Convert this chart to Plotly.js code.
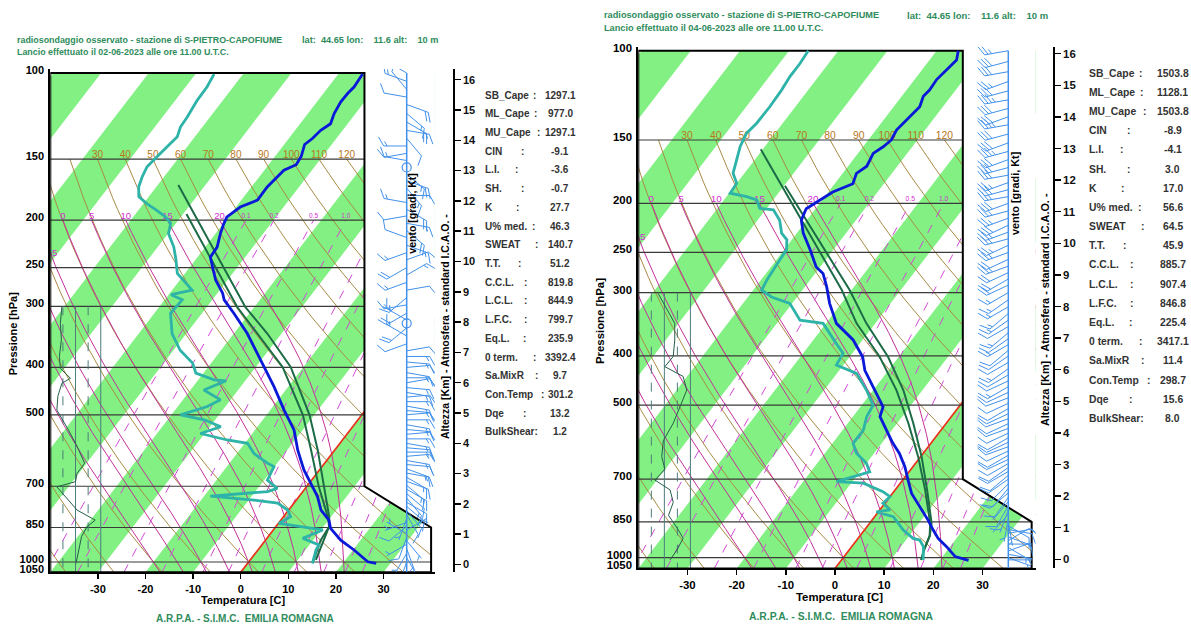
<!DOCTYPE html>
<html>
<head>
<meta charset="utf-8">
<script src="https://cdn.plot.ly/plotly-3.0.1.min.js"></script>
<style>
html,body{margin:0;padding:0;background:#ffffff;}
#chart{width:1191px;height:625px;}
</style>
</head>
<body>
<div id="chart"></div>
<script>
// ======================= DATA =======================
const stationName = "S-PIETRO-CAPOFIUME";
const launchDates = ["02-06-2023", "04-06-2023"];
const pressureTicks = [100,150,200,250,300,400,500,700,850,1000,1050];
const temperatureTicks = [-30,-20,-10,0,10,20,30];
const altitudeTicks = [0,1,2,3,4,5,6,7,8,9,10,11,12,13,14,15,16];
const isobarLevels = [150,200,250,300,400,500,700,850,1000];
const stripeStarts = [-120,-100,-80,-60,-40,-20,0,20];
const thetaValues = [-40,-30,-20,-10,0,10,20,30,40,50,60,70,80,90,100,110,120];
const thetaLabelValues = [30,40,50,60,70,80,90,100,110,120];
const thetaWValues = [-20,-15,-10,-5,0,5,10,15,20];
const thetaWLabelValues = [0,5,10,15,20];
const mixingRatioValues = [0.1,0.2,0.5,1,2,3,5,8,12,16,20];
const mixingRatioLabelValues = [0.1,0.2,0.5,1.0];
const rhGridValues = [25,50,75,100];

const statLabels = ["SB_Cape","ML_Cape","MU_Cape","CIN","L.I.","SH.","K","U% med.","SWEAT","T.T.","C.C.L.","L.C.L.","L.F.C.","Eq.L.","0 term.","Sa.MixR","Con.Temp","Dqe","BulkShear:"];
const statsDay1 = ["1297.1","977.0","1297.1","-9.1","-3.6","-0.7","27.7","46.3","140.7","51.2","819.8","844.9","799.7","235.9","3392.4","9.7","301.2","13.2","1.2"];
const statsDay2 = ["1503.8","1128.1","1503.8","-8.9","-4.1","3.0","17.0","56.6","64.5","45.9","885.7","907.4","846.8","225.4","3417.1","11.4","298.7","15.6","8.0"];

// ---- Day 1 (02-06-2023) ----
const d1TempP = [1006,999,945,902,854,821,783,735,690,649,619,590,537,489,438,399,341,310,291,282,265,249,238,227,213,203,197,188,182,171,158,154,148,140,136,131,127,121,114.5,110,106.7,100.5];
const d1TempT = [27.0,25.0,20.2,15.8,11.8,10.1,6.8,3.9,0.3,-3.2,-5.5,-7.8,-11.8,-17.1,-23.0,-28.3,-37.2,-43.3,-47.5,-48.9,-52.5,-55.3,-57.3,-57.5,-59.0,-59.9,-60.3,-59.1,-56.6,-56.7,-55.9,-54.2,-54.5,-55.7,-55.0,-54.6,-53.6,-54.5,-55.0,-54.9,-54.6,-54.9];
const d1DewP = [1006,945,923,894,860,834,808,783,758,747,733,718,707,680,638,628,600,572,563,546,529,512,500,481,466,445,426,424,411,392,369,341,310,291,284,278,257,241,227,213,203,197,191,185,179,171,163,155.5,148,141.5,135,129,123,113.5,106.7,100.5];
const d1DewT = [13.6,12.2,12.0,7.5,10.4,0.1,1.5,-0.2,-3.4,-8.9,-18.7,-7.4,-5.9,-9.3,-10.1,-12.0,-16.4,-19.4,-24.2,-30.9,-27.7,-32.3,-38.1,-33.8,-32.1,-37.2,-34.0,-36.7,-41.6,-43.9,-48.6,-53.0,-56.6,-56.3,-59.5,-55.8,-61.6,-64.1,-66.6,-69.9,-71.1,-73.2,-76.1,-79.3,-82.1,-83.7,-84.6,-85.2,-84.7,-84.2,-83.7,-84.6,-84.8,-85.4,-85.5,-86.1];
const d1ParcelAP = [1006,902,847,808,702,590,500,399,341,301,169.4];
const d1ParcelAT = [13.6,11.6,11.2,9.6,3.7,-3.6,-11.0,-22.7,-33.0,-41.9,-75.7];
const d1ParcelBP = [990.6,910,847,808,702,590,500,399,341,301,194.2];
const d1ParcelBT = [13.8,12.4,11.2,9.3,2.6,-5.0,-12.4,-24.4,-35.1,-43.6,-69.3];
const d1RhP = [1006,945,887,847,821,783,746,713,702,685,659,628,580,537,505,489,458,431,421,402,380,351,325,300];
const d1RhV = [51,56,62,73,89,53,36,20,13,50,53,68,53,36,20,13,15,23,40,20,18,22,20,23];
const d1WindP = [100,104,108,112,116,121,126,131,136,141,146,151,156,161,166,172,178,184,190,196,203,210,217,225,233,241,250,259,268,278,288,298,310,320,325,332,345,358,370,380,390,400,410,420,430,440,450,460,470,480,490,500,512,524,536,548,560,572,584,596,608,620,632,645,658,671,684,697,710,725,740,755,770,785,800,815,830,845,860,875,890,905,920,940,960,980,1000];
const d1WindDir = [300,290,320,280,110,130,120,100,140,270,260,280,0,130,110,140,90,280,120,260,100,130,290,110,250,70,240,60,250,80,230,260,240,300,0,230,300,250,80,90,95,85,100,90,80,95,100,85,90,100,95,85,90,100,95,85,90,100,95,90,85,100,95,110,100,120,110,130,120,130,140,120,130,140,150,200,250,230,60,300,200,140,240,160,210,150,200];
const d1WindSpd = [10,15,10,10,20,15,20,15,10,15,10,15,0,15,20,15,10,15,20,10,15,20,10,15,15,10,20,15,15,10,20,15,20,15,0,20,15,10,10,15,15,10,15,15,10,15,15,10,15,15,10,15,15,15,15,10,15,15,10,15,15,15,10,15,15,15,10,15,15,10,15,10,15,10,10,5,5,10,5,5,10,5,5,5,5,5,5];

// ---- Day 2 (04-06-2023) ----
const d2TempP = [1012,995,951,916,882,843,793,747,703,662,623,595,560,527,504,460,427,402,372,345,315,292,275,267,247,229,216,205,195.5,190,183,174.5,169,159.4,154.7,150,143.4,139,135,129,123,119.6,114,111,107.5,104.3,100];
const d2TempT = [25.9,22.6,19.3,16.3,14.0,11.4,7.6,3.9,1.1,-1.6,-4.8,-7.7,-11.1,-14.5,-15.4,-20.6,-24.8,-27.3,-31.9,-37.9,-42.4,-45.6,-48.4,-50.8,-54.7,-58.7,-61.1,-61.9,-60.1,-59.1,-56.3,-57.2,-56.2,-56.9,-55.9,-55.3,-55.8,-55.5,-55.2,-54.7,-55.6,-55.3,-55.5,-55.2,-54.8,-54.5,-55.6];
const d2DewP = [1010,951,923,916,882,830,812,805,781,758,741,713,708,677,651,622,595,560,527,500,467,433,417,395,378,361,345,340,330,315,306,296.5,283,271,259,247,236,229,216,206,204.6,197,194,191,182.6,174.5,164.3,154.7,145.6,139,129,119.6,112.5,106,100];
const d2DewT = [16.6,14.6,12.8,11.2,7.9,3.8,-0.4,2.1,-0.4,0.0,-2.2,-7.5,-13.2,-8.0,-10.0,-13.6,-15.8,-15.8,-17.2,-17.7,-21.4,-26.0,-31.4,-31.9,-34.8,-37.7,-40.6,-45.8,-47.6,-50.5,-55.2,-58.3,-58.8,-59.1,-59.3,-59.5,-61.0,-63.1,-65.5,-68.4,-71.4,-73.3,-75.9,-79.8,-80.0,-82.3,-83.6,-85.0,-85.8,-85.3,-85.2,-85.4,-85.8,-85.8,-86.1];
const d2ParcelAP = [1010,957,906,855,735,632,543,467,401.5,345,296.5,156.5];
const d2ParcelAT = [16.2,15.1,14.2,12.3,6.1,-0.5,-7.7,-15.3,-23.9,-33.8,-42.0,-80.4];
const d2ParcelBP = [1010,966,906,855,735,632,543,467,401.5,345,296.5,184.7];
const d2ParcelBT = [16.2,15.2,14.2,12.6,6.5,0.2,-6.7,-13.9,-22.2,-31.8,-40.4,-69.8];
const d2RhP = [1010,966,916,882,825,778,735,703,669,632,588,543,504,467,439,420,401,372,345,319,301];
const d2RhV = [61,74,86,77,58,67,61,32,51,45,48,67,80,93,86,51,67,70,70,51,38];
const d2WindP = [100,105,110,115,120,125,130,135,140,146,152,158,164,170,176,182,188,194,200,207,214,221,228,235,242,250,258,266,274,282,290,300,310,320,330,340,350,360,370,380,390,400,412,424,436,448,460,472,484,496,508,520,532,544,556,568,580,592,604,616,628,640,652,664,676,688,700,715,730,745,760,775,790,805,820,835,850,865,880,895,910,925,940,955,970,985,1000,1010];
const d2WindDir = [260,255,260,250,255,260,255,250,260,255,250,255,250,255,260,250,255,260,250,255,250,245,250,255,245,250,245,250,245,240,245,240,235,240,230,235,240,230,235,240,230,235,240,235,240,245,240,245,250,245,240,245,250,245,250,245,240,245,250,245,240,245,240,235,240,230,235,225,220,230,215,220,210,200,220,190,170,120,100,80,110,60,90,120,70,100,110,90];
const d2WindSpd = [25,30,30,25,30,35,30,30,35,30,30,35,30,30,30,25,30,25,30,25,25,30,25,25,25,25,20,25,20,20,20,15,15,15,15,15,10,15,10,15,10,10,10,15,10,10,15,10,10,10,10,10,10,10,10,10,10,10,10,10,10,10,10,10,10,10,10,10,10,10,10,5,10,5,5,5,5,10,10,10,10,10,5,5,5,5,5,5];

// ======================= STYLE / GEOMETRY =======================
const FONT = "Liberation Sans, Arial, Helvetica, sans-serif";
const W = 1191, H = 625;
const fx = px => px / W;
const fy = py => 1 - py / H;
const C = {
  band:'#82f082', dry:'#a88a45', dryLbl:'#b8761c', moist:'#c4309a', moistLbl:'#d42cd4',
  mix:'#d24ad6', iso0:'#ea301a', isobar:'#3a3a3a', temp:'#0a18d8', dew:'#2db3a8',
  parcel:'#1c6b46', rh:'#245e48', rhGrid:'#4d7c7c', wind:'#4291ea', stat:'#333333', head:'#2f8c5c'
};
const statColonOffsets = [48,49,52,36,30,36,31,47,50,33,39,39,39,38,48,50,56,38,null];

const K_SKEW = 79, P_BASE = 1050;
function skewX(T, p){ return T + K_SKEW*Math.log10(P_BASE/p); }
function es(Tc){ return 6.112*Math.exp(17.67*Tc/(Tc+243.5)); }
function dewFromE(e){ const l = Math.log(e/6.112); return 243.5*l/(17.67-l); }
function moistDTdp(p, TK){
  const e = es(TK-273.15); const rs = 0.622*e/(p-e);
  return (287.04*TK + 2.501e6*rs) / (p*(1005.7 + 2.501e6*2.501e6*rs*0.622/(287.04*TK*TK)));
}
function pseudo(thw){
  const dn = [], up = [];
  let T = thw+273.15, p = 1000;
  while (p < 1050){ const h = Math.min(2, 1050-p); const k1 = moistDTdp(p,T), k2 = moistDTdp(p+h, T+h*k1); T += h*(k1+k2)/2; p += h; dn.push([p,T]); }
  T = thw+273.15; p = 1000; up.push([1000,T]);
  while (p > 200){ const h = -Math.min(2, p-200); const k1 = moistDTdp(p,T), k2 = moistDTdp(p+h, T+h*k1); T += h*(k1+k2)/2; p += h; up.push([p,T]); }
  return dn.reverse().concat(up);
}
function shiftP(p, upPx, pxDec){ return p*Math.pow(10, -upPx/pxDec); }

function barbs(x0, P, D, S, L, pxDec){
  const xs = [], ys = [], cx = [], cy = [];
  const py = (p, up) => p*Math.pow(10, -up/pxDec);
  for (let i = 0; i < P.length; i++){
    const p = P[i];
    if (S[i] === 0){ cx.push(x0); cy.push(p); continue; }
    const a = D[i]*Math.PI/180, ux = Math.sin(a), uy = Math.cos(a);
    const nx = uy, ny = -ux;
    xs.push(x0, x0+L*ux, null); ys.push(p, py(p, L*uy), null);
    let s = Math.round(S[i]/5)*5, pos = 0;
    const sp = 0.15*L, fl = 0.45*L;
    while (s >= 50){
      const bx = x0+(L-pos)*ux, bu = (L-pos)*uy, ex = x0+(L-pos-sp*1.3)*ux, eu = (L-pos-sp*1.3)*uy;
      xs.push(bx, bx+fl*nx, ex, bx, null); ys.push(py(p,bu), py(p,bu+fl*ny), py(p,eu), py(p,bu), null);
      pos += sp*1.6; s -= 50;
    }
    while (s >= 10){
      const bx = x0+(L-pos)*ux, bu = (L-pos)*uy;
      xs.push(bx, bx+fl*(0.87*nx+0.5*ux), null); ys.push(py(p,bu), py(p,bu+fl*(0.87*ny+0.5*uy)), null);
      pos += sp; s -= 10;
    }
    if (s >= 5){
      if (pos === 0) pos = sp;
      const bx = x0+(L-pos)*ux, bu = (L-pos)*uy, h = fl*0.5;
      xs.push(bx, bx+h*(0.87*nx+0.5*ux), null); ys.push(py(p,bu), py(p,bu+h*(0.87*ny+0.5*uy)), null);
    }
  }
  return {xs, ys, cx, cy};
}

const panels = [
  { xa:'x', ya:'y', xw:'x3', yalt:'y3', xk:'xaxis', yk:'yaxis', xwk:'xaxis3', yaltk:'yaxis3',
    x0:50.3, pxC:4.76, yTop:73, pxDec:489, windX:406.7, barbL:23, altX:453.3, alt0:564.5, altPx:30.3, s:1,
    hx:15, hy1:40, hy2:51.5, latX:300, statX:483.3, statV:560, statY0:95, statDY:18.72,
    ventoX:411.7, ventoY:213, altezzaX:445, altezzaY:327, presX:13.3, presY:334, tempX:243, tempY:600, arpaX:245, arpaY:618,
    date:launchDates[0], stats:statsDay1,
    tP:d1TempP, tT:d1TempT, dP:d1DewP, dT:d1DewT, aP:d1ParcelAP, aT:d1ParcelAT, bP:d1ParcelBP, bT:d1ParcelBT,
    rP:d1RhP, rV:d1RhV, wP:d1WindP, wD:d1WindDir, wS:d1WindSpd },
  { xa:'x2', ya:'y2', xw:'x4', yalt:'y4', xk:'xaxis2', yk:'yaxis2', xwk:'xaxis4', yaltk:'yaxis4',
    x0:638.3, pxC:4.917, yTop:50.7, pxDec:507, windX:1008.3, barbL:24, altX:1053.3, alt0:559.3, altPx:31.6, s:1.035,
    hx:601.7, hy1:15, hy2:28.3, latX:905, statX:1087.3, statV:1172.7, statY0:73.3, statDY:19.17,
    ventoX:1015, ventoY:194, altezzaX:1045, altezzaY:310, presX:600, presY:321, tempX:839, tempY:596.7, arpaX:840.7, arpaY:616,
    date:launchDates[1], stats:statsDay2,
    tP:d2TempP, tT:d2TempT, dP:d2DewP, dT:d2DewT, aP:d2ParcelAP, aT:d2ParcelAT, bP:d2ParcelBP, bT:d2ParcelBT,
    rP:d2RhP, rV:d2RhV, wP:d2WindP, wD:d2WindDir, wS:d2WindSpd }
];

const traces = [], annotations = [];
const layout = {
  width:W, height:H, margin:{l:0,r:0,t:0,b:0}, paper_bgcolor:'#ffffff', plot_bgcolor:'rgba(0,0,0,0)',
  showlegend:false, font:{family:FONT}
};

function ann(x, y, text, opt){
  annotations.push(Object.assign({x:fx(x), y:fy(y), xref:'paper', yref:'paper', text:text, showarrow:false,
    xanchor:'left', yanchor:'middle', font:{family:FONT, size:10, color:'#000'}}, opt||{}));
}

panels.forEach(cfg => {
  const A = {type:'scatter', xaxis:cfg.xa, yaxis:cfg.ya, hoverinfo:'skip', showlegend:false};
  const s = cfg.s;
  const xRight = cfg.x0 + 80.8*cfg.pxC;
  const yBot = cfg.yTop + Math.log10(1050/100)*cfg.pxDec;
  const yTopExt = cfg.yTop - 4;

  // green isotherm bands
  stripeStarts.forEach(t1 => {
    traces.push(Object.assign({}, A, {mode:'lines',
      x:[skewX(t1,1050), skewX(t1,100), skewX(t1+10,100), skewX(t1+10,1050), skewX(t1,1050)],
      y:[1050,100,100,1050,1050], fill:'toself', fillcolor:C.band, line:{width:0, color:C.band}}));
  });

  // dry adiabats
  const dax = [], day = [];
  thetaValues.forEach(th => {
    for (let p = 150; p <= 1050; p += 10){ dax.push(skewX((th+273.15)*Math.pow(p/1000,0.2857)-273.15, p)); day.push(p); }
    dax.push(null); day.push(null);
  });
  traces.push(Object.assign({}, A, {mode:'lines', x:dax, y:day, line:{color:C.dry, width:1}}));

  // moist adiabats
  const mx = [], my = [], mlx = [], mly = [], mlt = [];
  let minus5 = null;
  thetaWValues.forEach(tw => {
    const pts = pseudo(tw);
    pts.forEach(([p,T]) => { mx.push(skewX(T-273.15,p)); my.push(p); });
    mx.push(null); my.push(null);
    if (thetaWLabelValues.includes(tw)){
      const last = pts[pts.length-1];
      mlx.push(skewX(last[1]-273.15, 200)); mly.push(shiftP(200, 4, cfg.pxDec)); mlt.push(String(tw));
    }
    if (tw === -5){
      for (let i = pts.length-1; i >= 0; i--){ if (skewX(pts[i][1]-273.15, pts[i][0]) >= -40){ minus5 = pts[i][0]; break; } }
    }
  });
  traces.push(Object.assign({}, A, {mode:'lines', x:mx, y:my, line:{color:C.moist, width:1}}));

  // mixing ratio lines
  const wx = [], wy = [], wlx = [], wly = [], wlt = [];
  mixingRatioValues.forEach(w => {
    for (let p = 1050; p >= 200; p -= 25){ const e = w*p/(622+w); wx.push(skewX(dewFromE(e), p)); wy.push(p); }
    wx.push(null); wy.push(null);
    if (mixingRatioLabelValues.includes(w)){
      const e = w*200/(622+w); wlx.push(skewX(dewFromE(e),200)); wly.push(shiftP(200,4,cfg.pxDec)); wlt.push(w.toFixed(1));
    }
  });
  traces.push(Object.assign({}, A, {mode:'lines', x:wx, y:wy, line:{color:C.mix, width:1, dash:'dash'}}));

  // 0 C isotherm
  traces.push(Object.assign({}, A, {mode:'lines', x:[skewX(0,1050), skewX(0,100)], y:[1050,100], line:{color:C.iso0, width:1.7}}));

  // isobars
  const ix = [], iy = [];
  isobarLevels.forEach(p => { ix.push(-40, p >= 850 ? 40 : 26, null); iy.push(p, p, null); });
  traces.push(Object.assign({}, A, {mode:'lines', x:ix, y:iy, line:{color:C.isobar, width:1.2}}));

  // labels
  const dlx = [], dly = [], dlt = [];
  thetaLabelValues.forEach(th => { dlx.push(skewX((th+273.15)*Math.pow(150/1000,0.2857)-273.15,150)); dly.push(shiftP(150,4,cfg.pxDec)); dlt.push(String(th)); });
  traces.push(Object.assign({}, A, {mode:'text', x:dlx, y:dly, text:dlt, textposition:'middle center', textfont:{family:FONT, size:10*s, color:C.dryLbl}}));
  traces.push(Object.assign({}, A, {mode:'text', x:mlx, y:mly, text:mlt, textposition:'middle center', textfont:{family:FONT, size:9.5*s, color:C.moistLbl}}));
  if (minus5) traces.push(Object.assign({}, A, {mode:'text', x:[-40.3], y:[minus5], text:['-5'], textposition:'middle right', textfont:{family:FONT, size:9.5*s, color:C.moistLbl}}));
  traces.push(Object.assign({}, A, {mode:'text', x:wlx, y:wly, text:wlt, textposition:'middle center', textfont:{family:FONT, size:6.5*s, color:C.moistLbl}}));

  // white mask outside the diagram outline
  traces.push(Object.assign({}, A, {mode:'lines', x:[26,41,41,40,40,26,26], y:[90,90,1100,1100,850,700,90], fill:'toself', fillcolor:'#ffffff', line:{width:0, color:'#ffffff'}}));

  // relative humidity inset
  const gx = [], gy = [], gdx = [], gdy = [];
  rhGridValues.forEach(v => {
    const X = -40 + v*0.106;
    if (v % 50 === 0){ gx.push(X, X, null); gy.push(300, 1050, null); } else { gdx.push(X, X, null); gdy.push(300, 1050, null); }
  });
  traces.push(Object.assign({}, A, {mode:'lines', x:gx, y:gy, line:{color:C.rhGrid, width:1}}));
  traces.push(Object.assign({}, A, {mode:'lines', x:gdx, y:gdy, line:{color:C.rhGrid, width:1, dash:'dash'}}));
  traces.push(Object.assign({}, A, {mode:'lines', x:cfg.rV.map(v => -40 + v*0.106), y:cfg.rP, line:{color:C.rh, width:1}}));

  // outline
  traces.push(Object.assign({}, A, {mode:'lines', x:[-40,-40,26,26,40,40,-40], y:[1050,100,100,700,850,1050,1050], line:{color:'#000', width:2}}));

  // profiles
  traces.push(Object.assign({}, A, {mode:'lines', x:cfg.bT.map((t,i)=>skewX(t,cfg.bP[i])), y:cfg.bP, line:{color:C.parcel, width:2}}));
  traces.push(Object.assign({}, A, {mode:'lines', x:cfg.aT.map((t,i)=>skewX(t,cfg.aP[i])), y:cfg.aP, line:{color:C.parcel, width:2}}));
  traces.push(Object.assign({}, A, {mode:'lines', x:cfg.dT.map((t,i)=>skewX(t,cfg.dP[i])), y:cfg.dP, line:{color:C.dew, width:2.8}}));
  traces.push(Object.assign({}, A, {mode:'lines', x:cfg.tT.map((t,i)=>skewX(t,cfg.tP[i])), y:cfg.tP, line:{color:C.temp, width:2.8}}));

  // wind column
  const WA = {type:'scatter', xaxis:cfg.xw, yaxis:cfg.ya, hoverinfo:'skip', showlegend:false};
  const b = barbs(cfg.windX, cfg.wP, cfg.wD, cfg.wS, cfg.barbL, cfg.pxDec);
  traces.push(Object.assign({}, WA, {mode:'lines', x:[cfg.windX, cfg.windX], y:[100,1050], line:{color:C.wind, width:1.5}}));
  traces.push(Object.assign({}, WA, {mode:'lines', x:b.xs, y:b.ys, line:{color:C.wind, width:1}}));
  if (b.cx.length) traces.push(Object.assign({}, WA, {mode:'markers', x:b.cx, y:b.cy, marker:{symbol:'circle-open', size:9, color:C.wind, line:{width:1.2, color:C.wind}}}));

  // dummy trace for altitude axis
  traces.push({type:'scatter', xaxis:cfg.xa, yaxis:cfg.yalt, x:[0], y:[5], mode:'markers', marker:{size:1, color:'rgba(0,0,0,0)'}, hoverinfo:'skip', showlegend:false});

  // axes
  const tickFont = {family:FONT, size:11*s, color:'#000', weight:'bold'};
  layout[cfg.xk] = {domain:[fx(cfg.x0), fx(xRight)], range:[-40, 40.8], anchor:cfg.ya, showgrid:false, zeroline:false,
    showline:true, linewidth:2, linecolor:'#000', ticks:'outside', ticklen:5, tickwidth:1.5, tickcolor:'#000',
    tickvals:temperatureTicks, ticktext:temperatureTicks.map(String), tickfont:tickFont};
  layout[cfg.yk] = {domain:[fy(yBot), fy(yTopExt)], type:'log', range:[Math.log10(1050), 2 - 4/cfg.pxDec], anchor:cfg.xa,
    showgrid:false, zeroline:false, showline:true, linewidth:2, linecolor:'#000', ticks:'outside', ticklen:2, tickcolor:'rgba(0,0,0,0)',
    tickvals:pressureTicks, ticktext:pressureTicks.map(String), tickfont:tickFont, ticklabelshift:3};
  layout[cfg.xwk] = {overlaying:cfg.xa, anchor:cfg.ya, range:[cfg.x0, xRight], visible:false, showgrid:false, zeroline:false};
  layout[cfg.yaltk] = {overlaying:cfg.ya, anchor:'free', position:fx(cfg.altX), side:'right',
    range:[(cfg.alt0 - yBot)/cfg.altPx, (cfg.alt0 - yTopExt)/cfg.altPx], showgrid:false, zeroline:false,
    showline:true, linewidth:1.5, linecolor:'#000', ticks:'outside', ticklen:6, tickwidth:1.5, tickcolor:'#000',
    tickvals:altitudeTicks, ticktext:altitudeTicks.map(String), tickfont:{family:FONT, size:11*s, color:'#111', weight:'bold'}};

  // texts
  const hf = {family:FONT, size:8.9*s, color:C.head, weight:'bold'};
  const lf = {family:FONT, size:9.2*s, color:C.head, weight:'bold'};
  ann(cfg.hx, cfg.hy1, "radiosondaggio osservato - stazione di " + stationName, {font:hf});
  ann(cfg.latX, cfg.hy1, "lat:\u00a0\u00a044.65 lon:\u00a0\u00a0\u00a0\u00a011.6 alt:\u00a0\u00a0\u00a0\u00a010 m", {font:lf});
  ann(cfg.hx, cfg.hy2, "Lancio effettuato il " + cfg.date + " alle ore 11.00 U.T.C.", {font:hf});
  const sf = {family:FONT, size:10*s, color:C.stat, weight:'bold'};
  statLabels.forEach((lab, i) => {
    const yy = cfg.statY0 + i*cfg.statDY;
    ann(cfg.statX, yy, lab, {font:sf});
    if (statColonOffsets[i] != null) ann(cfg.statX + statColonOffsets[i]*s, yy, ":", {font:sf});
    ann(cfg.statV, yy, cfg.stats[i], {font:sf, xanchor:'center'});
  });
  const tf = {family:FONT, size:11*s, color:'#000', weight:'bold'};
  ann(cfg.ventoX, cfg.ventoY, "vento [gradi, Kt]", {textangle:-90, xanchor:'center', font:{family:FONT, size:10.5*s, color:'#000', weight:'bold'}});
  ann(cfg.altezzaX, cfg.altezzaY, "Altezza [Km] - Atmosfera - standard I.C.A.O. -", {textangle:-90, xanchor:'center', font:{family:FONT, size:10.5*s, color:'#000', weight:'bold'}});
  ann(cfg.presX, cfg.presY, "Pressione [hPa]", {textangle:-90, xanchor:'center', font:tf});
  ann(cfg.tempX, cfg.tempY, "Temperatura [C]", {xanchor:'center', font:tf});
  ann(cfg.arpaX, cfg.arpaY, "A.R.P.A. - S.I.M.C.\u00a0\u00a0EMILIA ROMAGNA", {xanchor:'center', font:{family:FONT, size:10*s, color:C.head, weight:'bold'}});
});

layout.annotations = annotations;
Plotly.newPlot('chart', traces, layout, {staticPlot:true, displayModeBar:false});
</script>
</body>
</html>
